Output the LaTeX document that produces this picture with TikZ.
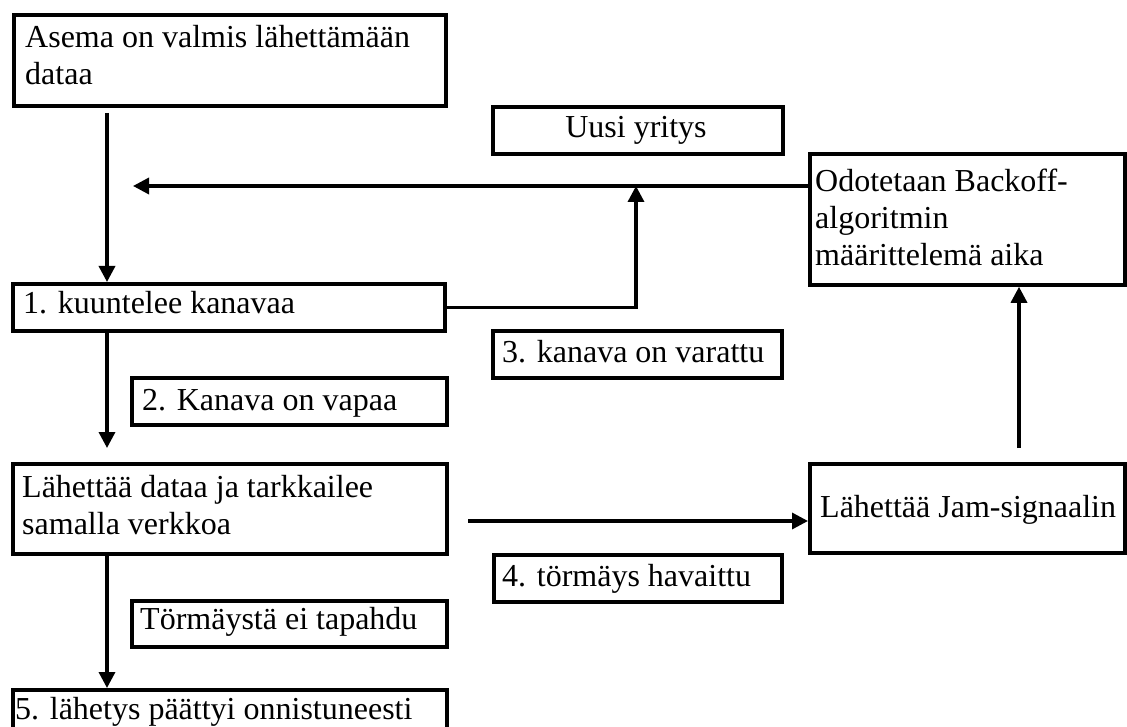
\documentclass[tikz,border=0pt]{standalone}
\usepackage{fontspec}
\setmainfont{Liberation Serif}
\usetikzlibrary{arrows.meta}

\tikzset{
  frame/.style={draw, line width=3.8pt, inner sep=0pt, anchor=north west},
  txt/.style={inner sep=0pt, align=left, font=\fontsize{32}{36.8}\selectfont},
  link/.style={line width=3.4pt, -{Triangle[length=16pt,width=16pt]}},
}

\begin{document}
\begin{tikzpicture}[x=1pt, y=-1pt]
  \useasboundingbox (0,0) rectangle (1127,727);
  \clip (0,0) rectangle (1127,727);

  % frames
  \node[frame, minimum width=432pt, minimum height=91pt]  (A) at (12,13)   {};
  \node[frame, minimum width=290pt, minimum height=47pt]  (B) at (491,105) {};
  \node[frame, minimum width=315pt, minimum height=131pt] (C) at (808,152) {};
  \node[frame, minimum width=432pt, minimum height=47pt]  (D) at (11,282)  {};
  \node[frame, minimum width=289pt, minimum height=47pt]  (E) at (491,329) {};
  \node[frame, minimum width=315pt, minimum height=47pt]  (F) at (130,376) {};
  \node[frame, minimum width=434pt, minimum height=90pt]  (G) at (11,462)  {};
  \node[frame, minimum width=315pt, minimum height=89pt]  (H) at (808,462) {};
  \node[frame, minimum width=288pt, minimum height=47pt]  (I) at (492,553) {};
  \node[frame, minimum width=315pt, minimum height=46pt]  (J) at (130,599) {};
  \node[frame, minimum width=434pt, minimum height=60pt]  (K) at (11,688)  {};

  % texts
  \node[txt, anchor=north west] (At) at (25,25) {Asema on valmis lähettämään\\dataa};
  \node[txt, anchor=base] (Bt) at (636,138) {Uusi yritys};
  \node[txt, anchor=north west] (Ct) at (815,169) {Odotetaan Backoff-\\algoritmin\\määrittelemä aika};
  \node[txt, anchor=base west] (Dt) at (23,313) {1. kuuntelee kanavaa};
  \node[txt, anchor=base west] (Et) at (502,362) {3. kanava on varattu};
  \node[txt, anchor=base west] (Ft) at (142,410) {2. Kanava on vapaa};
  \node[txt, anchor=north west] (Gt) at (22,475) {Lähettää dataa ja tarkkailee\\samalla verkkoa};
  \node[txt, anchor=base west] (Ht) at (820,517) {Lähettää Jam-signaalin};
  \node[txt, anchor=base west] (It) at (502,586) {4. törmäys havaittu};
  \node[txt, anchor=base west] (Jt) at (140,629) {Törmäystä ei tapahdu};
  \node[txt, anchor=base west] (Kt) at (15,719) {5. lähetys päättyi onnistuneesti};

  % connector ends
  \coordinate (a1) at (107,113);
  \coordinate (join) at (636,186);
  \coordinate (back) at (133,186);
  \coordinate (g1) at (107,448);
  \coordinate (gh) at (468,521);
  \coordinate (hc) at (1019,448);

  % connectors
  \draw[link] (a1) -- (a1 |- D.north);
  \draw[link] (D.east) -| (join);
  \draw[link] (join -| C.west) -- (back);
  \draw[link] (D.south -| a1) -- (g1);
  \draw[link] (gh) -- (gh -| H.west);
  \draw[link] (hc) -- (hc |- C.south);
  \draw[link] (G.south -| a1) -- (a1 |- K.north);
\end{tikzpicture}
\end{document}
